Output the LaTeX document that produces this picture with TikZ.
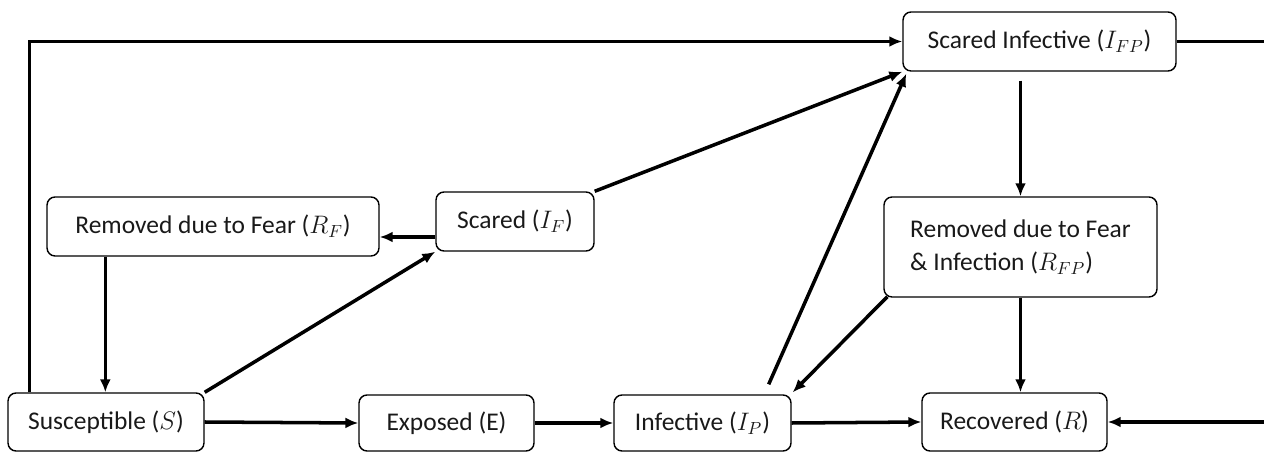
\documentclass[tikz,border=0pt]{standalone}
\usepackage{fontspec}
\setmainfont{Carlito}
\usetikzlibrary{arrows.meta,calc}
\tikzset{
  x=0.02cm, y=-0.02cm,
  box/.style={draw, line width=0.8pt, rounded corners=0.16cm, inner sep=0pt,
    font=\fontsize{14.5}{19}\selectfont, text=black!90},
  arr/.style={line width=2pt, -{Latex[length=0.26cm,width=0.22cm]}},
  ln/.style={line width=2pt}
}
\begin{document}
\begin{tikzpicture}
\useasboundingbox (0,0) rectangle (1264,452);
\node[box, minimum width=5.46cm, minimum height=1.18cm] (SI) at (1039.5,41.5) {Scared Infective ($I_{FP}$)};
\node[box, minimum width=3.16cm, minimum height=1.18cm] (IF) at (515,221.5) {Scared ($I_F$)};
\node[box, minimum width=6.64cm, minimum height=1.18cm] (RF) at (213,226.5) {Removed due to Fear ($R_F$)};
\node[box, minimum width=5.46cm, minimum height=2.0cm, align=left] (RFP) at (1020.5,247) {Removed due to Fear\\\& Infection ($R_{FP}$)};
\node[box, minimum width=3.92cm, minimum height=1.16cm] (S) at (106,422) {Susceptible ($S$)};
\node[box, minimum width=3.5cm, minimum height=1.12cm] (E) at (446.5,423) {Exposed (E)};
\node[box, minimum width=3.54cm, minimum height=1.12cm] (IP) at (702.5,423) {Infective ($I_P$)};
\node[box, minimum width=3.7cm, minimum height=1.16cm] (R) at (1014.5,422) {Recovered ($R$)};

% helper points
\coordinate (sl) at ($(S.north west)+(22,0)$);
\coordinate (rfd) at ($(RF.south west)+(59,0)$);
\coordinate (ifw) at ($(IF.west)+(0,15.5)$);
\coordinate (ipu) at ($(IP.north east)+(-23,-10)$);
\coordinate (sit) at ($(SI.south west)+(4,2)$);
\coordinate (rfps) at ($(RFP.south west)+(4,-1)$);
\coordinate (ipt) at ($(IP.north east)+(1,-2)$);
\coordinate (sid) at ($(RFP.north |- SI.south)+(0,9)$);
\coordinate (rt) at (1275,41.5);
\coordinate (rb) at (1275,422);

% long left loop
\draw[arr] (sl) |- (SI.west);
% long right loop (runs off the edge)
\draw[arr] (SI.east) -- (rt) -- (rb) -- (R.east);

\draw[arr] (rfd) -- (rfd |- S.north);
\draw[arr] (S.north east) -- (IF.south west);
\draw[arr] (ifw) -- (ifw -| RF.east);
\draw[arr] (IF.north east) -- (SI.south west);
\draw[arr] (ipu) -- (sit);
\draw[arr] (rfps) -- (ipt);
\draw[arr] (sid) -- (RFP.north);
\draw[arr] (RFP.south) -- (RFP.south |- R.north);

\draw[arr] (S.east) -- (E.west);
\draw[arr] (E.east) -- (IP.west);
\draw[arr] (IP.east) -- (R.west);
\end{tikzpicture}
\end{document}
